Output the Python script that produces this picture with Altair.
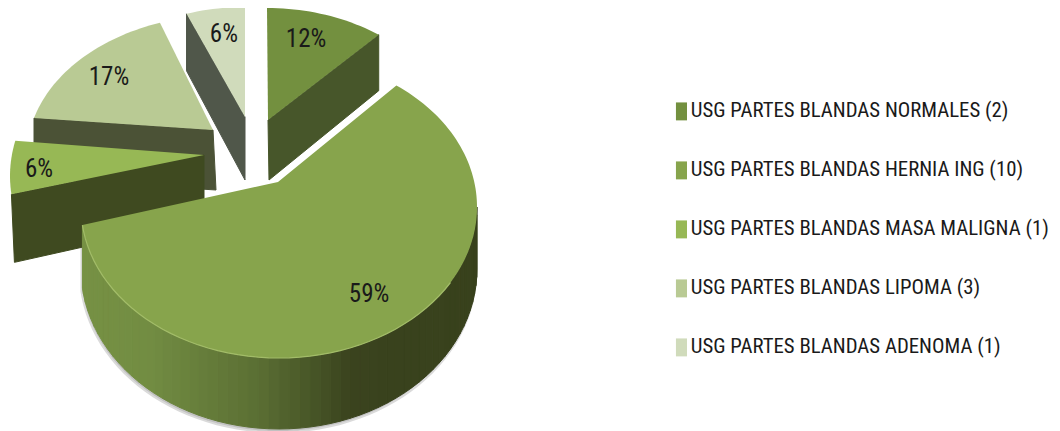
import math
import altair as alt
import pandas as pd

# --- data ---
names = ["USG PARTES BLANDAS NORMALES (2)", "USG PARTES BLANDAS HERNIA ING (10)",
         "USG PARTES BLANDAS MASA MALIGNA (1)", "USG PARTES BLANDAS LIPOMA (3)",
         "USG PARTES BLANDAS ADENOMA (1)"]
counts = [2, 10, 1, 3, 1]
pct_labels = ["12%", "59%", "6%", "17%", "6%"]

top_colors = ["#73903F", "#87A44C", "#97B855", "#B9CA94", "#D0DBBB"]
wall_colors = ["#47562A", "#3A431E", "#3F4A20", "#4B5236", "#50574A"]

FONT = "Roboto Condensed"

# --- 3-D look of each slice: apex, ellipse centre, radii, rim angle corrections, depth, label polar ---
layout = [
    dict(apex=(268, 120), c=(267, 161), rx=198, ry=153, d0=0, d1=-8, depth=58, lab=(13.8, .828)),
    dict(apex=(278, 182), c=(279, 207), rx=198, ry=151, d0=-6, d1=9, depth=71, lab=(141.4, .729)),
    dict(apex=(204, 155), c=(208, 176), rx=198, ry=153, d0=9, d1=8, depth=65, lab=(273.5, .855)),
    dict(apex=(213, 130), c=(225, 155), rx=198, ry=140, d0=10, d1=2, depth=60, lab=(313.9, .813)),
    dict(apex=(245, 117), c=(245, 160), rx=198, ry=153, d0=4, d1=0, depth=60, lab=(352.7, .837)),
]

total = sum(counts)
cum = [0]
for v in counts:
    cum.append(cum[-1] + v / total * 360)


def rim(g, t):
    r = math.radians(t)
    return (g["c"][0] + g["rx"] * math.sin(r), g["c"][1] - g["ry"] * math.cos(r))


def poly(pts, **props):
    ring = [list(p) for p in pts] + [list(pts[0])]
    return {"type": "Feature", "properties": props,
            "geometry": {"type": "Polygon", "coordinates": [ring]}}


def lerp_color(stops, f):
    for (a, ca), (b, cb) in zip(stops, stops[1:]):
        if f <= b:
            k = max(0, (f - a) / (b - a))
            return "#%02x%02x%02x" % tuple(round(x + (y - x) * k) for x, y in zip(ca, cb))
    return "#%02x%02x%02x" % stops[-1][1]


tops, walls = [], []
for i, g in enumerate(layout):
    t0, t1 = cum[i] + g["d0"], cum[i + 1] + g["d1"]
    n = max(8, int((t1 - t0) / 1.5))
    ts = [t0 + (t1 - t0) * k / n for k in range(n + 1)]
    arc = [rim(g, t) for t in ts]
    tops.append(poly([g["apex"]] + arc, name=names[i]))
    g["t0"], g["t1"] = t0, t1

# cut faces seen from the front, back to front
ax, ay = layout[3]["apex"]
d = layout[3]["depth"]
p = rim(layout[3], layout[3]["t0"])
walls.append(poly([p, (ax, ay), (ax + 3, ay + d), (p[0], p[1] + d)], c=wall_colors[3]))
ax, ay = layout[4]["apex"]
d = layout[4]["depth"]
p = rim(layout[4], layout[4]["t0"])
walls.append(poly([p, (ax, ay), (ax, ay + d + 3), (p[0], p[1] + d - 3)], c=wall_colors[4]))
ax, ay = layout[0]["apex"]
d = layout[0]["depth"]
p = rim(layout[0], layout[0]["t1"])
walls.append(poly([(ax, ay), p, (p[0], p[1] + d - 2), (ax + 1, ay + d + 2)], c=wall_colors[0]))
ax, ay = layout[2]["apex"]
d = layout[2]["depth"]
p = rim(layout[2], layout[2]["t0"])
walls.append(poly([p, (ax, ay), (ax, ay + d), (p[0] + 3, p[1] + d + 3)], c=wall_colors[2]))

# outer wall of the big slice, shaded by strips
g = layout[1]


def depth_at(t):
    return 62 + 9 * max(0, -math.cos(math.radians(t)))


stops = [(82, (0x76, 0x91, 0x44)), (150, (0x72, 0x8C, 0x42)), (260, (0x5A, 0x6E, 0x33)),
         (350, (0x3A, 0x43, 0x1E)), (477, (0x38, 0x41, 0x1C))]
step = 3
wall_ts = [90 + k * step for k in range(int((g["t1"] - 90) / step) + 1)] + [g["t1"]]
outline = [rim(g, t) for t in wall_ts]
lower = [(rim(g, t)[0], rim(g, t)[1] + depth_at(t)) for t in wall_ts]
shadow = [poly([(x - 1, y + 2) for x, y in outline] + [(x - 1, y + 3) for x, y in reversed(lower)], c="#8f8f8f")]
strips = []
for k in range(len(wall_ts) - 1):
    mx = (outline[k][0] + outline[k + 1][0]) / 2
    strips.append(poly([outline[k], outline[k + 1], lower[k + 1], lower[k]], c=lerp_color(stops, mx)))

# light edge where the big slice's top meets its wall
highlight = [{"type": "Feature", "properties": {},
              "geometry": {"type": "LineString",
                           "coordinates": [list(rim(g, t)) for t in wall_ts if t >= 120]}}]

proj = alt.Projection(type="identity", scale=1, translate=[-8, -8])

shadow_layer = alt.Chart(alt.Data(values=shadow)).mark_geoshape(opacity=.55, stroke="#bdbdbd", strokeWidth=2).encode(
    fill=alt.Fill("properties.c:N", scale=None, legend=None))
wall_layer = alt.Chart(alt.Data(values=walls + strips)).mark_geoshape(strokeWidth=1).encode(
    fill=alt.Fill("properties.c:N", scale=None, legend=None),
    stroke=alt.Stroke("properties.c:N", scale=None, legend=None))

legend = alt.Legend(title=None, orient="none", legendX=662, legendY=93, direction="vertical",
                    symbolType="M-0.63,-1.27H0.93V1.27H-0.63Z", symbolSize=200, symbolStrokeWidth=0,
                    labelFont=FONT, labelFontSize=20.8, labelColor="#1a1a1a",
                    labelLimit=420, labelOffset=0, rowPadding=37, columnPadding=0, symbolOffset=0)
top_layer = alt.Chart(alt.Data(values=tops)).mark_geoshape(strokeWidth=0).encode(
    color=alt.Color("properties.name:N", sort=names,
                    scale=alt.Scale(domain=names, range=top_colors), legend=legend))
edge_layer = alt.Chart(alt.Data(values=highlight)).mark_geoshape(
    filled=False, stroke="#A2BC68", strokeWidth=1.2)

label_rows = []
for i, g2 in enumerate(layout):
    t, k = g2["lab"]
    r = math.radians(t)
    label_rows.append(dict(lon=g2["c"][0] + k * g2["rx"] * math.sin(r),
                           lat=g2["c"][1] - k * g2["ry"] * math.cos(r), txt=pct_labels[i]))
text_layer = alt.Chart(pd.DataFrame(label_rows)).mark_text(
    font=FONT, fontSize=25, color="#1a1a1a", align="center", baseline="middle", dy=1
).encode(longitude="lon:Q", latitude="lat:Q", text="txt:N")

chart = alt.layer(shadow_layer, wall_layer, top_layer, edge_layer, text_layer).properties(
    width=1044, height=423, padding=0,
    autosize=alt.AutoSizeParams(type="none", contains="padding"),
    projection=proj,
).configure_view(stroke=None)

chart.save("out.html", embed_options={"renderer": "svg", "actions": False})
